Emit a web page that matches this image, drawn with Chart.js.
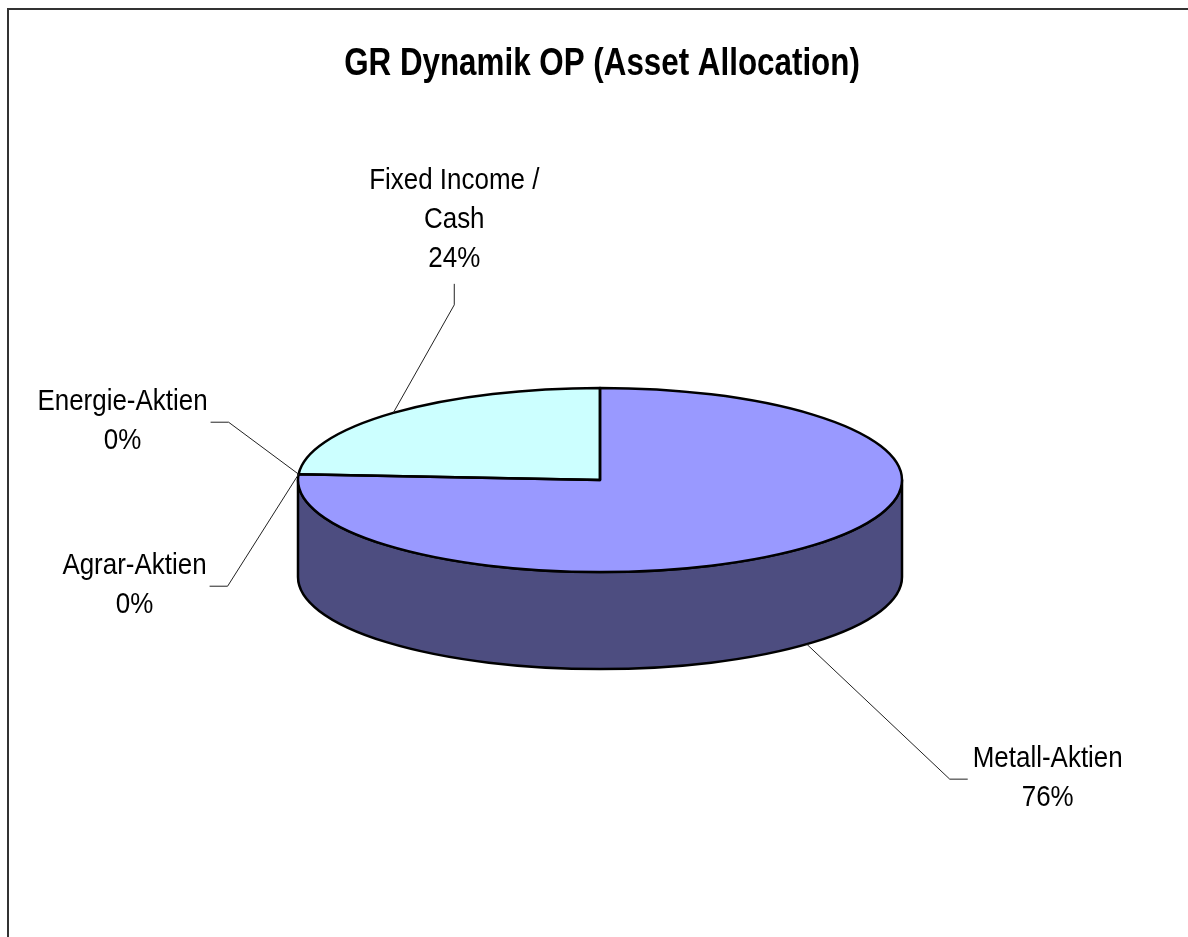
<!DOCTYPE html>
<html>
<head>
<meta charset="utf-8">
<script src="https://cdn.jsdelivr.net/npm/chart.js@4"></script>
<style>
html, body { margin: 0; padding: 0; background: #fff; }
canvas { display: block; }
</style>
</head>
<body>
<canvas id="pie" width="1188" height="937"></canvas>
<script>
// chart data
const chartTitle = "GR Dynamik OP (Asset Allocation)";
const categories = ["Metall-Aktien", "Agrar-Aktien", "Energie-Aktien", "Fixed Income / Cash"];
const labelLines = [["Metall-Aktien"], ["Agrar-Aktien"], ["Energie-Aktien"], ["Fixed Income /", "Cash"]];
const shares = [76, 0, 0, 24];
const sliceColors = ["#9999ff", "#993366", "#ffffcc", "#ccffff"];

// look of the 3d cake and the labels
const sideColor = "#4d4d80";
const tilt = 0.305;     // ry / rx of the top face
const depth = 97;       // height of the cake wall in px
const edgeWidth = 2.5;
const fontFamily = "'Liberation Sans', Arial, sans-serif";
const titleSize = 39, titleSqueeze = 0.804;   // Arial Narrow look
const labelSize = 30, labelSqueeze = 0.865;
const lineGap = 39;
// leader line: offset from slice anchor to the elbow, then a short tail
const leaders = [
    { dx: 143, dy: 135, tail: "right" },
    { dx: -71, dy: 112, tail: "left" },
    { dx: -70, dy: -52, tail: "left" },
    { dx: 61, dy: -108, tail: "up" }
];

function squeezedText(ctx, text, x, y, squeeze) {
    ctx.save();
    ctx.translate(x, y);
    ctx.scale(squeeze, 1);
    ctx.fillText(text, 0, 0);
    ctx.restore();
}

const frame = {
    id: "frame",
    beforeDraw(chart) {
        const ctx = chart.ctx;
        ctx.save();
        ctx.fillStyle = "#fff";
        ctx.fillRect(0, 0, chart.width, chart.height);
        ctx.strokeStyle = "#333";
        ctx.lineWidth = 2;
        ctx.beginPath();
        ctx.moveTo(8, chart.height + 5);
        ctx.lineTo(8, 9);
        ctx.lineTo(chart.width + 5, 9);
        ctx.stroke();
        // title
        ctx.fillStyle = "#000";
        ctx.font = "bold " + titleSize + "px " + fontFamily;
        ctx.textAlign = "center";
        ctx.textBaseline = "alphabetic";
        squeezedText(ctx, chartTitle, (chart.chartArea.left + chart.chartArea.right) / 2 + 2, 75, titleSqueeze);
        ctx.restore();
    }
};

const pie3d = {
    id: "pie3d",
    beforeDatasetsDraw(chart) {
        const ctx = chart.ctx;
        const arcs = chart.getDatasetMeta(0).data;
        const { x: cx, y: cy, outerRadius: r } = arcs[0];
        const ry = r * tilt;
        // front wall
        ctx.save();
        ctx.lineWidth = edgeWidth;
        ctx.strokeStyle = "#000";
        ctx.lineJoin = "round";
        arcs.forEach(arc => {
            const a0 = Math.max(arc.startAngle, 0);
            const a1 = Math.min(arc.endAngle, Math.PI);
            if (a1 <= a0) return;
            ctx.beginPath();
            ctx.moveTo(cx + r * Math.cos(a0), cy + ry * Math.sin(a0));
            ctx.ellipse(cx, cy + depth, r, ry, 0, a0, a1);
            ctx.ellipse(cx, cy, r, ry, 0, a1, a0, true);
            ctx.closePath();
            ctx.fillStyle = sideColor;
            ctx.fill();
            ctx.stroke();
        });
        ctx.restore();
        // squash the top face the library draws
        ctx.save();
        ctx.translate(cx, cy);
        ctx.scale(1, tilt);
        ctx.translate(-cx, -cy);
    },
    afterDatasetsDraw(chart) {
        const ctx = chart.ctx;
        ctx.restore();
        const arcs = chart.getDatasetMeta(0).data;
        const { x: cx, y: cy, outerRadius: r } = arcs[0];
        const ry = r * tilt;
        ctx.save();
        ctx.lineWidth = edgeWidth;
        ctx.strokeStyle = "#000";
        ctx.lineJoin = "round";
        arcs.forEach(arc => {
            if (arc.endAngle - arc.startAngle <= 0) return;
            ctx.beginPath();
            ctx.moveTo(cx, cy);
            ctx.ellipse(cx, cy, r, ry, 0, arc.startAngle, arc.endAngle);
            ctx.closePath();
            ctx.stroke();
        });
        ctx.restore();

        // labels with leader lines
        const total = shares.reduce((a, b) => a + b, 0);
        ctx.save();
        ctx.font = labelSize + "px " + fontFamily;
        ctx.fillStyle = "#000";
        ctx.textBaseline = "alphabetic";
        ctx.textAlign = "center";
        arcs.forEach((arc, i) => {
            const mid = (arc.startAngle + arc.endAngle) / 2;
            const s = Math.sin(mid);
            const ax = cx + r * Math.cos(mid);
            const ay = cy + ry * s + (s > 0 ? depth : 0);
            const lead = leaders[i];
            const ex = ax + lead.dx, ey = ay + lead.dy;
            let tx = ex, ty = ey;
            if (lead.tail === "right") tx += 18;
            else if (lead.tail === "left") tx -= 18;
            else ty -= 21;
            ctx.strokeStyle = "#222";
            ctx.lineWidth = 1;
            ctx.beginPath();
            ctx.moveTo(ax, ay);
            ctx.lineTo(ex, ey);
            ctx.lineTo(tx, ty);
            ctx.stroke();

            const lines = labelLines[i].concat([Math.round(shares[i] / total * 100) + "%"]);
            const w = Math.max(...lines.map(t => ctx.measureText(t).width)) * labelSqueeze;
            let centerX, firstBase;
            if (lead.tail === "right") {
                centerX = tx + 5 + w / 2;
                firstBase = ty - 12.5 - (lines.length - 2) * lineGap;
            } else if (lead.tail === "left") {
                centerX = tx - 3 - w / 2;
                firstBase = ty - 12.5 - (lines.length - 2) * lineGap;
            } else {
                centerX = tx;
                firstBase = ty - 17 - (lines.length - 1) * lineGap;
            }
            lines.forEach((t, k) => squeezedText(ctx, t, centerX, firstBase + k * lineGap, labelSqueeze));
        });
        ctx.restore();
    }
};

new Chart(document.getElementById("pie"), {
    type: "pie",
    data: {
        labels: categories,
        datasets: [{
            data: shares,
            backgroundColor: sliceColors,
            borderWidth: 0
        }]
    },
    options: {
        responsive: false,
        animation: false,
        events: [],
        layout: { padding: { left: 298, right: 286, top: 170, bottom: 147 } },
        plugins: {
            legend: { display: false },
            tooltip: { enabled: false },
            title: { display: false }
        }
    },
    plugins: [frame, pie3d]
});
</script>
</body>
</html>
